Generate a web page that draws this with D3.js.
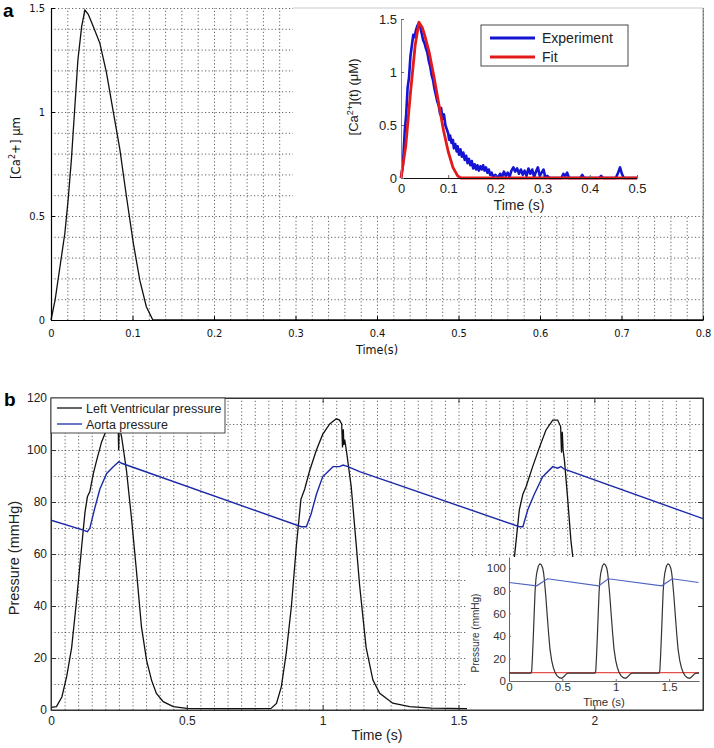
<!DOCTYPE html>
<html>
<head>
<meta charset="utf-8">
<script src="https://cdn.jsdelivr.net/npm/d3@7"></script>
<style>
  body { margin: 0; background: #fff; }
  svg { display: block; }
</style>
</head>
<body>
<div id="chart"></div>
<script>
// ---- Data ----

// Panel a: simulated Ca2+ transient, [time (s), concentration (uM)]
const caModel = [
  [0, 0], [0.005, 0.096], [0.011, 0.256], [0.017, 0.417], [0.021, 0.577],
  [0.025, 0.77], [0.029, 1.01], [0.033, 1.25], [0.0376, 1.41], [0.0416, 1.49],
  [0.0457, 1.47], [0.052, 1.41], [0.06, 1.33], [0.068, 1.19], [0.076, 1.01],
  [0.0845, 0.82], [0.0927, 0.59], [0.101, 0.37], [0.109, 0.19], [0.117, 0.064],
  [0.125, 0], [0.8, 0]
];

// Inset a: measured transient (noisy) and fitted curve
const caExperiment = [
  [0, 0], [0.004, 0.12], [0.008, 0.45], [0.011, 0.6], [0.014, 0.85], [0.017, 0.95],
  [0.02, 1.15], [0.023, 1.25], [0.026, 1.35], [0.029, 1.33], [0.032, 1.4], [0.035, 1.44],
  [0.038, 1.46], [0.041, 1.42], [0.044, 1.36], [0.047, 1.3], [0.05, 1.27], [0.053, 1.22],
  [0.056, 1.18], [0.059, 1.1], [0.062, 1.05], [0.065, 0.97], [0.068, 0.92], [0.071, 0.84],
  [0.074, 0.78], [0.077, 0.72], [0.08, 0.68], [0.083, 0.6], [0.085, 0.66], [0.088, 0.56],
  [0.091, 0.6], [0.094, 0.5], [0.097, 0.46], [0.1, 0.42], [0.102, 0.36], [0.104, 0.4],
  [0.107, 0.33], [0.11, 0.36], [0.112, 0.28], [0.115, 0.32], [0.118, 0.25], [0.12, 0.3],
  [0.123, 0.22], [0.126, 0.27], [0.129, 0.2], [0.132, 0.24], [0.135, 0.17], [0.138, 0.21],
  [0.141, 0.14], [0.144, 0.18], [0.147, 0.12], [0.15, 0.16], [0.153, 0.09], [0.156, 0.13],
  [0.159, 0.08], [0.162, 0.12], [0.165, 0.07], [0.168, 0.11], [0.171, 0.08], [0.174, 0.12],
  [0.177, 0.07], [0.18, 0.1], [0.183, 0.05], [0.186, 0.08], [0.189, 0.03], [0.192, 0.05],
  [0.195, 0.01], [0.2, 0.03], [0.205, 0], [0.21, 0.04], [0.214, 0.01], [0.218, 0.06],
  [0.222, 0.02], [0.226, 0.05], [0.23, 0.01], [0.234, 0.07], [0.238, 0.1], [0.242, 0.06],
  [0.246, 0.09], [0.25, 0.04], [0.254, 0.08], [0.258, 0.03], [0.262, 0.07], [0.266, 0.02],
  [0.27, 0.09], [0.274, 0.04], [0.278, 0.08], [0.282, 0.01], [0.286, 0.06], [0.29, 0.1],
  [0.294, 0.02], [0.298, 0.05], [0.302, 0.08], [0.306, 0], [0.31, 0.02], [0.315, 0],
  [0.34, 0], [0.344, 0.04], [0.348, 0.02], [0.352, 0.05], [0.356, 0], [0.38, 0],
  [0.384, 0.03], [0.388, 0], [0.42, 0], [0.424, 0.02], [0.428, 0], [0.455, 0],
  [0.46, 0.05], [0.464, 0.1], [0.468, 0.04], [0.472, 0], [0.5, 0]
];
const caFit = [
  [0, 0], [0.01, 0.3], [0.02, 0.8], [0.03, 1.25], [0.038, 1.47], [0.045, 1.42],
  [0.05, 1.35], [0.06, 1.18], [0.07, 0.95], [0.08, 0.7], [0.09, 0.45], [0.1, 0.25],
  [0.11, 0.1], [0.12, 0.02], [0.127, 0], [0.5, 0]
];

// Panel b: [time (s), pressure (mmHg)]
const lvPressure = [
  [0, 1.0], [0.02, 1.3], [0.04, 5], [0.058, 13], [0.076, 24], [0.094, 42], [0.113, 63],
  [0.125, 76], [0.134, 82], [0.143, 84], [0.156, 91], [0.168, 96], [0.186, 103],
  [0.205, 108], [0.223, 111.5], [0.238, 112.5], [0.247, 111], [0.249, 100], [0.251, 109],
  [0.26, 105], [0.278, 92], [0.297, 73], [0.315, 53], [0.333, 32], [0.352, 19],
  [0.37, 11.5], [0.388, 6.4], [0.413, 3.2], [0.45, 1.3], [0.5, 0.6], [0.6, 0.5],
  [0.7, 0.5], [0.81, 0.6], [0.83, 2.5], [0.848, 9], [0.866, 22], [0.885, 40],
  [0.903, 63], [0.92, 81], [0.934, 85], [0.952, 92], [0.977, 100], [1.0, 106],
  [1.026, 110], [1.05, 112], [1.062, 111.5], [1.07, 110], [1.073, 101], [1.076, 108],
  [1.078, 102], [1.081, 104], [1.087, 100], [1.105, 86], [1.124, 63], [1.136, 48],
  [1.16, 24], [1.185, 11.5], [1.21, 6.4], [1.258, 2.6], [1.32, 1.3], [1.4, 0.7],
  [1.528, 0.5], [1.6, 0.6], [1.63, 2.5], [1.65, 9], [1.67, 22], [1.69, 40],
  [1.706, 59], [1.724, 77], [1.737, 83], [1.749, 86], [1.773, 93.6], [1.798, 101],
  [1.822, 107.7], [1.847, 111.5], [1.865, 111.5], [1.876, 109], [1.879, 99],
  [1.882, 107], [1.885, 100], [1.89, 96], [1.902, 81], [1.914, 65], [1.923, 57],
  [1.94, 35], [1.96, 18], [1.98, 9], [2.0, 5], [2.05, 2], [2.1, 1], [2.2, 0.6],
  [2.4, 0.5]
];
const aortaPressure = [
  [0, 73], [0.119, 69.2], [0.134, 68.6], [0.143, 69.9], [0.162, 78], [0.18, 85],
  [0.205, 91], [0.229, 93.6], [0.25, 95.5], [0.26, 94.9], [0.921, 70.5], [0.94, 70.5],
  [0.958, 75.6], [0.977, 83], [1.0, 89.7], [1.038, 93.6], [1.062, 93.6], [1.075, 94.2],
  [1.093, 93.6], [1.136, 91.7], [1.724, 70.5], [1.737, 70.5], [1.755, 77], [1.779, 83],
  [1.81, 89.7], [1.847, 93.6], [1.865, 93], [1.877, 93.6], [1.89, 92.6], [2.4, 73.6]
];

// Inset b
const insetLV = [
  [0, 7], [0.205, 7], [0.213, 9], [0.22, 22], [0.228, 40], [0.236, 60], [0.244, 79],
  [0.252, 90], [0.26, 96], [0.275, 102], [0.29, 104], [0.303, 103], [0.316, 100],
  [0.324, 96], [0.331, 90], [0.345, 75], [0.359, 57], [0.372, 41], [0.384, 28],
  [0.4, 18], [0.415, 12], [0.43, 8], [0.447, 5], [0.47, 3], [0.494, 2.4], [0.515, 4],
  [0.54, 6.5], [0.56, 7],
  [0.805, 7], [0.813, 9], [0.82, 22], [0.828, 40], [0.836, 60], [0.844, 79],
  [0.852, 90], [0.86, 96], [0.875, 102], [0.89, 104], [0.903, 103], [0.916, 100],
  [0.924, 96], [0.931, 90], [0.945, 75], [0.959, 57], [0.972, 41], [0.984, 28],
  [1.0, 18], [1.015, 12], [1.03, 8], [1.047, 5], [1.07, 3], [1.094, 2.4], [1.115, 4],
  [1.14, 6.5], [1.16, 7],
  [1.405, 7], [1.413, 9], [1.42, 22], [1.428, 40], [1.436, 60], [1.444, 79],
  [1.452, 90], [1.46, 96], [1.475, 102], [1.49, 104], [1.503, 103], [1.516, 100],
  [1.524, 96], [1.531, 90], [1.545, 75], [1.559, 57], [1.572, 41], [1.584, 28],
  [1.6, 18], [1.615, 12], [1.63, 8], [1.647, 5], [1.67, 3], [1.694, 2.4], [1.715, 4],
  [1.74, 6.5], [1.76, 7], [1.78, 7]
];
const insetAorta = [
  [0, 87.4], [0.26, 84.4], [0.36, 90.7], [0.84, 84.4], [0.93, 90.7],
  [1.43, 84.4], [1.53, 90.7], [1.775, 87.4]
];
const insetRef = [[0, 7.4], [1.78, 7.4]];

// Tick labels
const aXTicks = [0, 0.1, 0.2, 0.3, 0.4, 0.5, 0.6, 0.7, 0.8];
const aYTicks = [0, 0.5, 1, 1.5];
const aInsXTicks = [0, 0.1, 0.2, 0.3, 0.4, 0.5];
const aInsYTicks = [0, 0.5, 1, 1.5];
const bXTicks = [0, 0.5, 1, 1.5, 2];
const bYTicks = [0, 20, 40, 60, 80, 100, 120];
const bInsXTicks = [0, 0.5, 1, 1.5];
const bInsYTicks = [0, 20, 40, 60, 80, 100];

// ---- Drawing ----
const width = 714;
const height = 748;
const sans = "'Liberation Sans', Arial, sans-serif";
const cond = "'DejaVu Sans Condensed', 'Liberation Sans Narrow', sans-serif";

const svg = d3.select("#chart")
  .append("svg")
  .attr("width", width)
  .attr("height", height);

const line = (x, y) => d3.line().x(d => x(d[0])).y(d => y(d[1]));

// dotted grid lines built with axes
function grid(g, x, y, xVals, yVals) {
  const [x0, x1] = x.range();
  const [y0, y1] = y.range();
  g.append("g")
    .attr("transform", `translate(0,${y0})`)
    .call(d3.axisBottom(x).tickValues(xVals).tickSize(-(y0 - y1)).tickFormat(""))
    .call(s => s.select(".domain").remove());
  g.append("g")
    .attr("transform", `translate(${x0},0)`)
    .call(d3.axisLeft(y).tickValues(yVals).tickSize(-(x1 - x0)).tickFormat(""))
    .call(s => s.select(".domain").remove());
  g.selectAll(".tick line")
    .attr("stroke", "#3a3a3a")
    .attr("stroke-width", 0.8)
    .attr("stroke-dasharray", "1.2,2.3");
}

const fmt = d => (d === 0 ? "0" : String(d));

// ================= Panel a =================
const xA = d3.scaleLinear().domain([0, 0.8]).range([51, 703]);
const yA = d3.scaleLinear().domain([0, 1.5]).range([320, 8]);

const gA = svg.append("g");
grid(gA.append("g"), xA, yA, d3.range(1, 41).map(i => i * 0.02), d3.range(1, 16).map(i => i * 0.1));

gA.append("line")
  .attr("x1", 703).attr("x2", 703).attr("y1", 8).attr("y2", 320)
  .attr("stroke", "#555").attr("stroke-width", 0.8);

gA.append("path")
  .datum(caModel)
  .attr("fill", "none")
  .attr("stroke", "#111")
  .attr("stroke-width", 1.3)
  .attr("d", line(xA, yA));

const axA = gA.append("g")
  .attr("transform", "translate(0,320)")
  .call(d3.axisBottom(xA).tickValues(aXTicks).tickFormat(fmt).tickSizeInner(-4).tickSizeOuter(0).tickPadding(9));
const ayA = gA.append("g")
  .attr("transform", "translate(51,0)")
  .call(d3.axisLeft(yA).tickValues(aYTicks).tickFormat(fmt).tickSizeInner(-4).tickSizeOuter(0).tickPadding(6));
[axA, ayA].forEach(a => {
  a.select(".domain").attr("stroke", "#000").attr("stroke-width", 1.2);
  a.selectAll("text").attr("font-family", cond).attr("font-size", 11).attr("fill", "#111");
});

gA.append("text")
  .attr("x", 377).attr("y", 354)
  .attr("text-anchor", "middle")
  .attr("font-family", cond).attr("font-size", 12.5).attr("fill", "#111")
  .text("Time(s)");

const yLabA = gA.append("text")
  .attr("transform", "translate(20,148) rotate(-90)")
  .attr("text-anchor", "middle")
  .attr("font-family", cond).attr("font-size", 13).attr("fill", "#111");
yLabA.append("tspan").text("[Ca");
yLabA.append("tspan").attr("dy", -5).attr("font-size", 9).text("2");
yLabA.append("tspan").attr("dy", 5).text("+] \u00b5m");

// ---- inset a ----
const gAi = svg.append("g");
gAi.append("rect")
  .attr("x", 293).attr("y", 8).attr("width", 410).attr("height", 208)
  .attr("fill", "#fff");
gAi.append("line")
  .attr("x1", 293).attr("x2", 703).attr("y1", 8).attr("y2", 8)
  .attr("stroke", "#bbb").attr("stroke-width", 0.8);
gAi.append("line")
  .attr("x1", 703).attr("x2", 703).attr("y1", 8).attr("y2", 216)
  .attr("stroke", "#777").attr("stroke-width", 0.8);

const xAi = d3.scaleLinear().domain([0, 0.5]).range([401, 637]);
const yAi = d3.scaleLinear().domain([0, 1.5]).range([178, 19]);

gAi.append("path")
  .datum(caExperiment)
  .attr("fill", "none")
  .attr("stroke", "#1414d2")
  .attr("stroke-width", 2.6)
  .attr("stroke-linejoin", "round")
  .attr("d", line(xAi, yAi));
gAi.append("path")
  .datum(caFit)
  .attr("fill", "none")
  .attr("stroke", "#e21a1a")
  .attr("stroke-width", 2.8)
  .attr("stroke-linejoin", "round")
  .attr("d", line(xAi, yAi));

const axAi = gAi.append("g")
  .attr("transform", "translate(0,178)")
  .call(d3.axisBottom(xAi).tickValues(aInsXTicks).tickFormat(fmt).tickSizeInner(-3).tickSizeOuter(0).tickPadding(6));
const ayAi = gAi.append("g")
  .attr("transform", "translate(401,0)")
  .call(d3.axisLeft(yAi).tickValues(aInsYTicks).tickFormat(fmt).tickSizeInner(-3).tickSizeOuter(0).tickPadding(4));
axAi.select(".domain").attr("stroke", "#111").attr("stroke-width", 1);
ayAi.select(".domain").attr("stroke", "#888").attr("stroke-width", 1);
[axAi, ayAi].forEach(a => {
  a.selectAll(".tick line").attr("stroke", "#666");
  a.selectAll("text").attr("font-family", sans).attr("font-size", 13).attr("fill", "#222");
});

gAi.append("text")
  .attr("x", 519).attr("y", 210)
  .attr("text-anchor", "middle")
  .attr("font-family", sans).attr("font-size", 14).attr("fill", "#222")
  .text("Time (s)");

const yLabAi = gAi.append("text")
  .attr("transform", "translate(358,97) rotate(-90)")
  .attr("text-anchor", "middle")
  .attr("font-family", sans).attr("font-size", 13).attr("fill", "#222");
yLabAi.append("tspan").text("[Ca");
yLabAi.append("tspan").attr("dy", -5).attr("font-size", 9).text("2+");
yLabAi.append("tspan").attr("dy", 5).text("](t) (\u03bcM)");

const legA = gAi.append("g");
legA.append("rect")
  .attr("x", 481).attr("y", 25).attr("width", 147).attr("height", 41)
  .attr("fill", "#fff").attr("stroke", "#333").attr("stroke-width", 0.9);
[["Experiment", "#1414d2", 38], ["Fit", "#e21a1a", 57]].forEach(([name, color, yy]) => {
  legA.append("line")
    .attr("x1", 490).attr("x2", 535).attr("y1", yy).attr("y2", yy)
    .attr("stroke", color).attr("stroke-width", 2.8);
  legA.append("text")
    .attr("x", 542).attr("y", yy + 5)
    .attr("font-family", sans).attr("font-size", 14).attr("fill", "#222")
    .text(name);
});

svg.append("text")
  .attr("x", 3).attr("y", 17)
  .attr("font-family", sans).attr("font-size", 19).attr("font-weight", "bold")
  .text("a");

// ================= Panel b =================
const xB = d3.scaleLinear().domain([0, 2.4]).range([51, 703]);
const yB = d3.scaleLinear().domain([0, 120]).range([710, 398]);

const gB = svg.append("g");
grid(gB.append("g"), xB, yB, d3.range(1, 48).map(i => i * 0.05), d3.range(1, 12).map(i => i * 10));

svg.append("clipPath").attr("id", "clipB")
  .append("rect").attr("x", 51).attr("y", 398).attr("width", 652).attr("height", 312);

gB.append("path")
  .datum(lvPressure)
  .attr("clip-path", "url(#clipB)")
  .attr("fill", "none")
  .attr("stroke", "#111")
  .attr("stroke-width", 1.3)
  .attr("d", line(xB, yB));
gB.append("path")
  .datum(aortaPressure)
  .attr("clip-path", "url(#clipB)")
  .attr("fill", "none")
  .attr("stroke", "#1c2aa8")
  .attr("stroke-width", 1.4)
  .attr("d", line(xB, yB));

// ---- inset b (drawn over the main curves) ----
const gBi = svg.append("g");
gBi.append("rect")
  .attr("x", 467).attr("y", 557).attr("width", 236).attr("height", 153)
  .attr("fill", "#fff");

const xBi = d3.scaleLinear().domain([0, 1.78]).range([509, 699]);
const yBi = d3.scaleLinear().domain([0, 110]).range([681, 557]);

gBi.append("path")
  .datum(insetRef)
  .attr("fill", "none").attr("stroke", "#e4504a").attr("stroke-width", 1.2)
  .attr("d", line(xBi, yBi));
gBi.append("path")
  .datum(insetLV)
  .attr("fill", "none").attr("stroke", "#333").attr("stroke-width", 1.2)
  .attr("d", line(xBi, yBi));
gBi.append("path")
  .datum(insetAorta)
  .attr("fill", "none").attr("stroke", "#4d62c4").attr("stroke-width", 1.2)
  .attr("d", line(xBi, yBi));

const axBi = gBi.append("g")
  .attr("transform", "translate(0,681)")
  .call(d3.axisBottom(xBi).tickValues(bInsXTicks).tickFormat(fmt).tickSizeInner(-2).tickSizeOuter(0).tickPadding(2));
const ayBi = gBi.append("g")
  .attr("transform", "translate(509,0)")
  .call(d3.axisLeft(yBi).tickValues(bInsYTicks).tickFormat(fmt).tickSizeInner(-2).tickSizeOuter(0).tickPadding(3));
[axBi, ayBi].forEach(a => {
  a.select(".domain").attr("stroke", "#555").attr("stroke-width", 0.9);
  a.selectAll(".tick line").attr("stroke", "#777");
  a.selectAll("text").attr("font-family", sans).attr("font-size", 11.5).attr("fill", "#333");
});

gBi.append("text")
  .attr("x", 604).attr("y", 706)
  .attr("text-anchor", "middle")
  .attr("font-family", sans).attr("font-size", 11.5).attr("fill", "#333")
  .text("Time (s)");
gBi.append("text")
  .attr("transform", "translate(479,633) rotate(-90)")
  .attr("text-anchor", "middle")
  .attr("font-family", sans).attr("font-size", 10).attr("fill", "#333")
  .text("Pressure (mmHg)");

// frame, ticks and labels of panel b
svg.append("rect")
  .attr("x", 51).attr("y", 398).attr("width", 652).attr("height", 312)
  .attr("fill", "none").attr("stroke", "#333").attr("stroke-width", 1);

const axB = svg.append("g")
  .attr("transform", "translate(0,710)")
  .call(d3.axisBottom(xB).tickValues(bXTicks).tickFormat(fmt).tickSizeInner(-5).tickSizeOuter(0).tickPadding(6));
const axBt = svg.append("g")
  .attr("transform", "translate(0,398)")
  .call(d3.axisTop(xB).tickValues(bXTicks).tickFormat("").tickSizeInner(-5).tickSizeOuter(0));
const ayB = svg.append("g")
  .attr("transform", "translate(51,0)")
  .call(d3.axisLeft(yB).tickValues(bYTicks).tickFormat(fmt).tickSizeInner(-5).tickSizeOuter(0).tickPadding(4));
const ayBr = svg.append("g")
  .attr("transform", "translate(703,0)")
  .call(d3.axisRight(yB).tickValues(bYTicks).tickFormat("").tickSizeInner(-5).tickSizeOuter(0));
[axB, axBt, ayB, ayBr].forEach(a => {
  a.select(".domain").attr("stroke", "#333");
  a.selectAll(".tick line").attr("stroke", "#333");
  a.selectAll("text").attr("font-family", sans).attr("font-size", 12).attr("fill", "#222");
});

svg.append("text")
  .attr("x", 377).attr("y", 740)
  .attr("text-anchor", "middle")
  .attr("font-family", sans).attr("font-size", 14).attr("fill", "#222")
  .text("Time (s)");
svg.append("text")
  .attr("transform", "translate(19,558) rotate(-90)")
  .attr("text-anchor", "middle")
  .attr("font-family", sans).attr("font-size", 14.5).attr("fill", "#222")
  .text("Pressure (mmHg)");

const legB = svg.append("g");
legB.append("rect")
  .attr("x", 51).attr("y", 398).attr("width", 174).attr("height", 35)
  .attr("fill", "#fff").attr("stroke", "#333").attr("stroke-width", 0.9);
[["Left Ventricular pressure", "#111", 408], ["Aorta pressure", "#1c2aa8", 424]].forEach(([name, color, yy]) => {
  legB.append("line")
    .attr("x1", 57).attr("x2", 82).attr("y1", yy).attr("y2", yy)
    .attr("stroke", color).attr("stroke-width", 1.3);
  legB.append("text")
    .attr("x", 86).attr("y", yy + 4.5)
    .attr("font-family", sans).attr("font-size", 12.5).attr("fill", "#222")
    .text(name);
});

svg.append("text")
  .attr("x", 4).attr("y", 406)
  .attr("font-family", sans).attr("font-size", 19).attr("font-weight", "bold")
  .text("b");
</script>
</body>
</html>
